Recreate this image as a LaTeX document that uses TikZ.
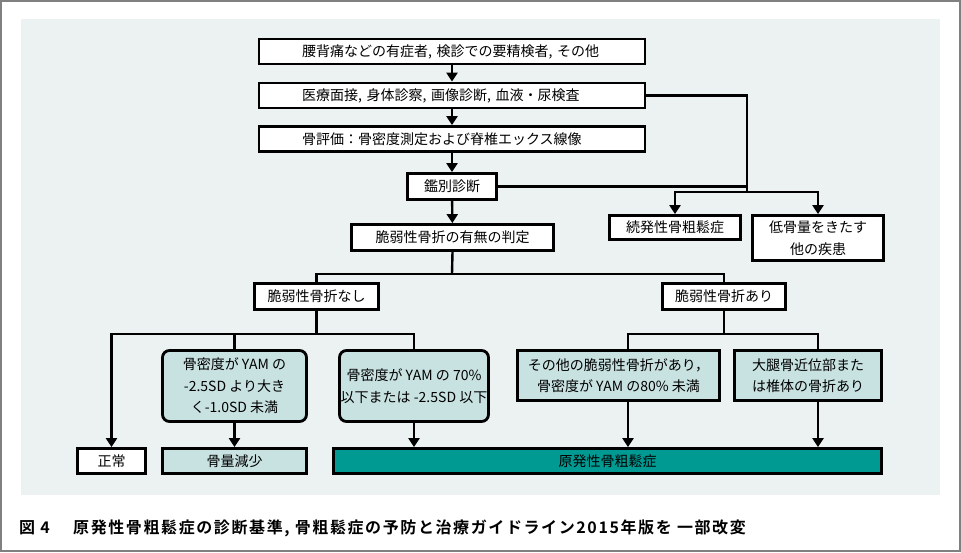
\documentclass[tikz,border=0pt]{standalone}
\usepackage{fontspec}
\setmainfont{Noto Sans CJK JP}[BoldFont={Noto Sans CJK JP Bold}]
\newfontfamily\capfont{Noto Sans CJK JP Bold}[LetterSpace=10]
\usetikzlibrary{arrows.meta,calc}
\definecolor{panelbg}{HTML}{ECF2F2}
\definecolor{lteal}{HTML}{C8E1E1}
\definecolor{dteal}{HTML}{009A93}
\definecolor{framegray}{HTML}{808080}
\newcommand{\fs}{\fontsize{14pt}{21.5pt}\selectfont}
\tikzset{
  box/.style={draw=black, line width=2.8pt, fill=white, inner sep=0pt, align=center, font=\fs},
  lbox/.style={box, text width=300pt, align=left, inner xsep=43pt, minimum height=25pt},
  rbox/.style={box, fill=lteal, rounded corners=7pt},
  conn/.style={line width=2.4pt},
  arr/.style={conn, -{Triangle[width=11pt,length=9pt]}},
  captxt/.style={anchor=west, inner sep=0pt, font=\fontsize{16pt}{18pt}\capfont}
}
\begin{document}
\begin{tikzpicture}[x=1pt,y=-1pt]
\useasboundingbox (0,0) rectangle (961,552);
\fill[panelbg] (21,19) rectangle (940,495);
\draw[framegray, line width=2pt] (1,1) rectangle (960,551);
% top chain
\node[lbox] (n1) at (452,51.5) {腰背痛などの有症者, 検診での要精検者, その他};
\node[lbox] (n2) at (452,95.5) {医療面接, 身体診察, 画像診断, 血液・尿検査};
\node[lbox] (n3) at (452,139) {骨評価：骨密度測定および脊椎エックス線像};
\node[box, minimum width=89pt, minimum height=26pt] (n4) at (452,186.5) {鑑別診断};
\node[box, minimum width=202pt, minimum height=26pt] (n5) at (452.5,237.5) {脆弱性骨折の有無の判定};
\node[box, minimum width=131pt, minimum height=24pt] (n6) at (675,227.5) {続発性骨粗鬆症};
\node[box, minimum width=131pt, minimum height=45pt] (n7) at (818,238) {低骨量をきたす\\他の疾患};
\node[box, minimum width=124pt, minimum height=26pt] (n8) at (316.5,296.5) {脆弱性骨折なし};
\node[box, minimum width=123pt, minimum height=26pt] (n9) at (724,296.5) {脆弱性骨折あり};
\node[rbox, minimum width=144pt, minimum height=71pt] (n10) at (234.5,386) {骨密度が YAM の\\-2.5SD より大き\\く-1.0SD 未満};
\node[rbox, minimum width=149pt, minimum height=71pt] (n11) at (414,386) {骨密度が YAM の 70\%\\以下または -2.5SD 以下};
\node[box, fill=lteal, minimum width=202pt, minimum height=50pt] (n12) at (618.5,375.5) {その他の脆弱性骨折があり，\\骨密度が YAM の80\% 未満};
\node[box, fill=lteal, minimum width=147pt, minimum height=50pt] (n13) at (808,375.5) {大腿骨近位部また\\は椎体の骨折あり};
\node[box, minimum width=68pt, minimum height=25pt] (n14) at (111.5,461) {正常};
\node[box, fill=lteal, minimum width=144pt, minimum height=25pt] (n15) at (234.5,461) {骨量減少};
\node[box, fill=dteal, minimum width=548pt, minimum height=25pt] (n16) at (607.5,461) {原発性骨粗鬆症};
% junctions
\coordinate (jA) at (747,192);
\coordinate (jB) at (452,274);
\coordinate (jC) at (316.5,334);
\coordinate (jD) at (724,334);
% connectors
\draw[arr] (n1) -- (n2);
\draw[arr] (n2) -- (n3);
\draw[arr] (n3) -- (n4);
\draw[arr] (n4) -- (n5);
\draw[conn] (n2.east) -| (jA);
\draw[conn] (n4.east) -- (n4.east -| jA);
\draw[arr] (jA) -| (n6.north);
\draw[arr] (jA) -| (n7.north);
\draw[conn] (n5.south) -- (jB);
\draw[conn] (jB) -| (n8.north);
\draw[conn] (jB) -| (n9.north);
\draw[conn] (n8.south) -- (jC);
\draw[arr] (jC) -| (n14.north);
\draw[conn] (jC) -| (n10.north);
\draw[conn] (jC) -| (n11.north);
\draw[arr] (n10.south) -- (n15.north);
\draw[arr] (n11.south) -- (n11.south |- n16.north);
\draw[conn] (n9.south) -- (jD);
\draw[conn] (jD) -| ([xshift=9.5pt]n12.north);
\draw[conn] (jD) -| ([xshift=10pt]n13.north);
\draw[arr] ([xshift=9.5pt]n12.south) -- ([xshift=9.5pt]n12.south |- n16.north);
\draw[arr] ([xshift=10pt]n13.south) -- ([xshift=10pt]n13.south |- n16.north);
% caption
\node[captxt] (cap1) at (19,528) {図 4};
\node[captxt] (cap2) at (73,528) {原発性骨粗鬆症の診断基準, 骨粗鬆症の予防と治療ガイドライン2015年版を 一部改変};
\end{tikzpicture}
\end{document}
